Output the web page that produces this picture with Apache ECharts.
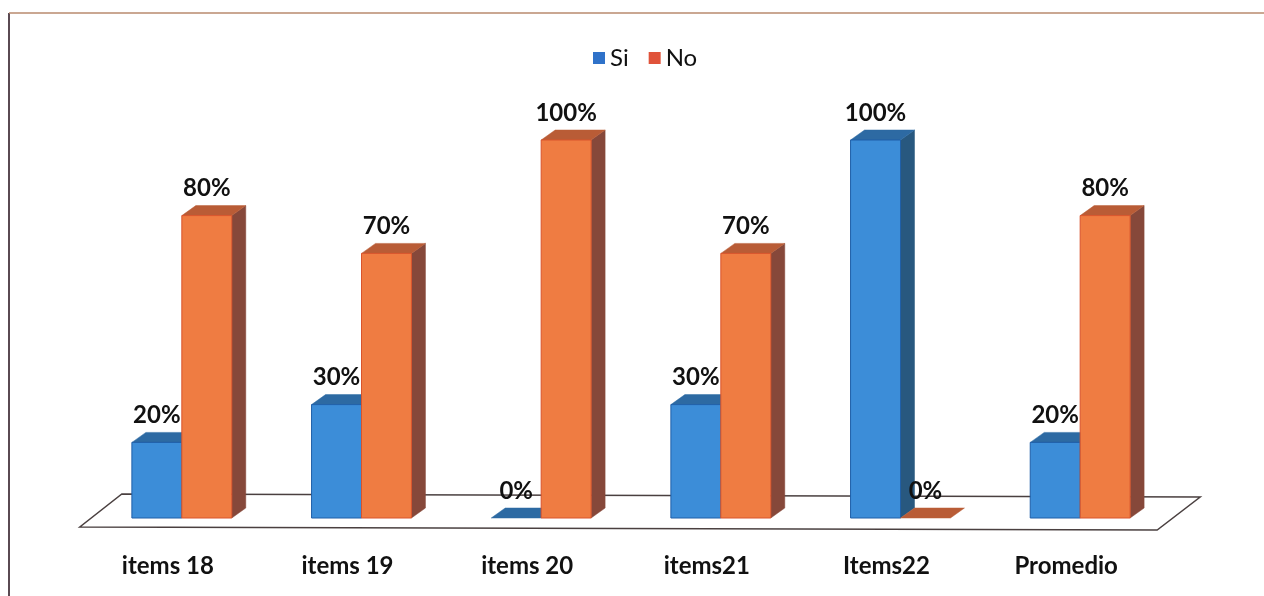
<!DOCTYPE html>
<html>
<head>
<meta charset="utf-8">
<title>Si / No</title>
<script src="https://cdn.jsdelivr.net/npm/echarts@6/dist/echarts.min.js"></script>
<style>
  html, body { margin: 0; padding: 0; background: #fff; }
  #chart { width: 1264px; height: 596px; }
</style>
</head>
<body>
<div id="chart"></div>
<script>
const categories = ['items 18', 'items 19', 'items 20', 'items21', 'Items22', 'Promedio']
const siValues = [20, 30, 0, 30, 100, 20]
const noValues = [80, 70, 100, 70, 0, 80]

const depthX = 14
const depthY = 10

const palettes = {
  si: { front: '#3c8dd8', top: '#2d6aa3', side: '#28587f', stroke: '#1f5fa8' },
  no: { front: '#ef7c42', top: '#b95c36', side: '#86483a', stroke: '#d9542c' }
}

function renderBar(pal, shift) {
  return function (params, api) {
    const cat = api.value(0)
    const val = api.value(1)
    const top = api.coord([cat, val])
    const base = api.coord([cat, 0])
    const barW = api.size([1, 0])[0] * 0.278
    const x0 = top[0] + shift * barW
    const x1 = x0 + barW
    const yt = top[1]
    const yb = base[1]
    const children = []

    if (yb - yt > 0.5) {
      children.push({
        type: 'polygon',
        shape: { points: [[x1, yt], [x1 + depthX, yt - depthY], [x1 + depthX, yb - depthY], [x1, yb]] },
        style: { fill: pal.side, stroke: pal.side, lineWidth: 0.5 }
      })
    }
    children.push({
      type: 'polygon',
      shape: { points: [[x0, yt], [x1, yt], [x1 + depthX, yt - depthY], [x0 + depthX, yt - depthY]] },
      style: { fill: pal.top, stroke: pal.top, lineWidth: 0.5 }
    })
    if (yb - yt > 0.5) {
      children.push({
        type: 'rect',
        shape: { x: x0, y: yt, width: barW, height: yb - yt },
        style: { fill: pal.front, stroke: pal.stroke, lineWidth: 1 }
      })
    }
    children.push({
      type: 'text',
      style: {
        text: val + '%',
        x: x0 + barW / 2,
        y: yt - 27,
        align: 'center',
        verticalAlign: 'middle',
        fill: '#111',
        font: 'bold 24px Lato, "Open Sans", sans-serif'
      }
    })
    return { type: 'group', children }
  }
}

function renderFloor(params, api) {
  const first = api.coord([0, 0])
  const last = api.coord([categories.length - 1, 0])
  const y = first[1]
  return {
    type: 'polygon',
    shape: {
      points: [
        [first[0] - 102, y + 9],
        [last[0] + 77, y + 12],
        [last[0] + 120, y - 21],
        [first[0] - 60, y - 24]
      ]
    },
    style: { fill: '#fff', stroke: '#4a4040', lineWidth: 1.5 }
  }
}

const chart = echarts.init(document.getElementById('chart'))

chart.setOption({
  animation: false,
  legend: {
    data: ['Si', 'No'],
    top: 41,
    left: 588,
    icon: 'rect',
    itemWidth: 12,
    itemHeight: 12,
    itemGap: 20,
    textStyle: { fontSize: 24, color: '#111', fontFamily: 'Lato, "Open Sans", sans-serif' }
  },
  graphic: [{
    type: 'polyline',
    shape: { points: [[9, 596], [9, 13]] },
    style: { stroke: '#5a4a52', lineWidth: 2 }
  }, {
    type: 'polyline',
    shape: { points: [[9, 13], [1264, 13]] },
    style: { stroke: '#b88a6e', lineWidth: 1.5 }
  }],
  grid: { left: 92, right: 94, top: 140, bottom: 78 },
  xAxis: {
    type: 'category',
    data: categories,
    axisLine: { show: false },
    axisTick: { show: false },
    axisLabel: {
      margin: 36,
      padding: [0, 28, 0, 0],
      fontSize: 24,
      fontWeight: 'bold',
      color: '#111',
      fontFamily: 'Lato, "Open Sans", sans-serif'
    }
  },
  yAxis: { type: 'value', min: 0, max: 100, show: false },
  series: [
    {
      name: 'floor',
      type: 'custom',
      renderItem: renderFloor,
      data: [[0, 0]],
      z: 1,
      silent: true
    },
    {
      name: 'Si',
      type: 'custom',
      renderItem: renderBar(palettes.si, -1),
      itemStyle: { color: '#2f72c9' },
      data: siValues.map((v, i) => [i, v]),
      z: 2
    },
    {
      name: 'No',
      type: 'custom',
      renderItem: renderBar(palettes.no, 0),
      itemStyle: { color: '#e0533a' },
      data: noValues.map((v, i) => [i, v]),
      z: 3
    }
  ]
})
</script>
</body>
</html>
